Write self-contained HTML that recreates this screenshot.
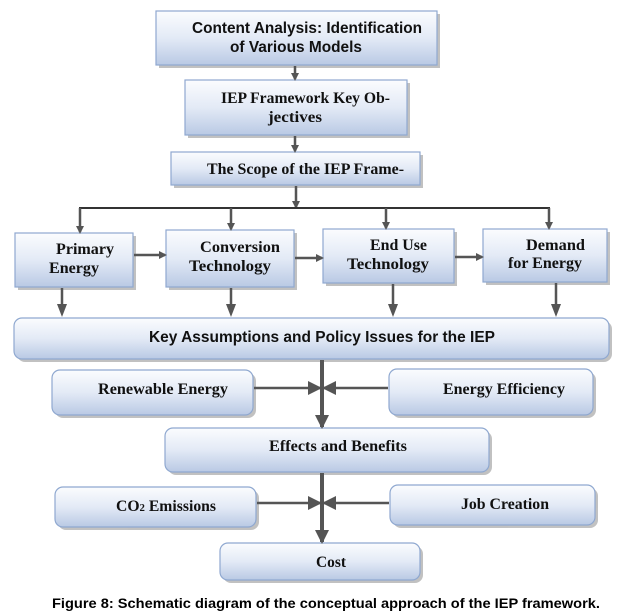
<!DOCTYPE html>
<html><head><meta charset="utf-8"><style>
html,body{margin:0;padding:0;background:#fff;}
svg{display:block;}
.s{font-family:"Liberation Sans",sans-serif;font-weight:bold;font-size:15.5px;fill:#111;}
.f{font-family:"Liberation Serif",serif;font-weight:bold;font-size:16px;fill:#111;}
</style></head><body>
<svg width="617" height="614" viewBox="0 0 617 614" xmlns="http://www.w3.org/2000/svg">
<defs>
<linearGradient id="g" x1="0" y1="0" x2="0" y2="1">
<stop offset="0" stop-color="#fbfcfe"/><stop offset="0.5" stop-color="#e3eaf6"/><stop offset="1" stop-color="#b9c9e4"/>
</linearGradient>
<marker id="a" markerWidth="8" markerHeight="8" refX="6" refY="4" orient="auto" markerUnits="userSpaceOnUse"><path d="M0,0 L8,4 L0,8 z" fill="#555"/></marker>
<marker id="b" markerWidth="14" markerHeight="14" refX="12" refY="7" orient="auto" markerUnits="userSpaceOnUse"><path d="M0,0 L14,7 L0,14 z" fill="#555"/></marker>
</defs>
<g fill="#999" opacity="0.6">
<rect x="159" y="14" width="281" height="54"/>
<rect x="188" y="83" width="222" height="55"/>
<rect x="174" y="155" width="249" height="33"/>
<rect x="18" y="236" width="118" height="54"/>
<rect x="169" y="233" width="128" height="57"/>
<rect x="326" y="232" width="131" height="54"/>
<rect x="486" y="232" width="124" height="53"/>
<rect x="17" y="321" width="595" height="41" rx="8"/>
<rect x="55" y="373" width="201" height="45" rx="8"/>
<rect x="392" y="372" width="204" height="46" rx="8"/>
<rect x="168" y="431" width="324" height="44" rx="8"/>
<rect x="58" y="490" width="201" height="40" rx="8"/>
<rect x="393" y="488" width="205" height="40" rx="8"/>
<rect x="223" y="546" width="200" height="37" rx="8"/>
</g>
<g fill="url(#g)" stroke="#8fa8d0" stroke-width="1.2">
<rect x="156" y="11" width="281" height="54"/>
<rect x="185" y="80" width="222" height="55"/>
<rect x="171" y="152" width="249" height="33"/>
<rect x="15" y="233" width="118" height="54"/>
<rect x="166" y="230" width="128" height="57"/>
<rect x="323" y="229" width="131" height="54"/>
<rect x="483" y="229" width="124" height="53"/>
<rect x="14" y="318" width="595" height="41" rx="8"/>
<rect x="52" y="370" width="201" height="45" rx="8"/>
<rect x="389" y="369" width="204" height="46" rx="8"/>
<rect x="165" y="428" width="324" height="44" rx="8"/>
<rect x="55" y="487" width="201" height="40" rx="8"/>
<rect x="390" y="485" width="205" height="40" rx="8"/>
<rect x="220" y="543" width="200" height="37" rx="8"/>
</g>
<g stroke="#555" stroke-width="2.5" fill="none">
<line x1="295" y1="66" x2="295" y2="79" marker-end="url(#a)"/>
<line x1="295" y1="136" x2="295" y2="151" marker-end="url(#a)"/>
<line x1="296" y1="186" x2="296" y2="207" marker-end="url(#a)"/>
<line x1="79" y1="208" x2="550" y2="208" stroke-width="2" stroke="#333"/>
<line x1="80" y1="208" x2="80" y2="232" marker-end="url(#a)"/>
<line x1="231" y1="208" x2="231" y2="229" marker-end="url(#a)"/>
<line x1="386" y1="208" x2="386" y2="228" marker-end="url(#a)"/>
<line x1="549" y1="208" x2="549" y2="228" marker-end="url(#a)"/>
<line x1="134" y1="255" x2="165" y2="255" marker-end="url(#a)"/>
<line x1="295" y1="258" x2="322" y2="258" marker-end="url(#a)"/>
<line x1="455" y1="257" x2="482" y2="257" marker-end="url(#a)"/>
<line x1="62" y1="288" x2="62" y2="305"/>
<line x1="231" y1="288" x2="231" y2="305"/>
<line x1="393" y1="284" x2="393" y2="305"/>
<line x1="556" y1="283" x2="556" y2="305"/>
<line x1="322" y1="360" x2="322" y2="427" stroke-width="4" marker-end="url(#b)"/>
<line x1="254" y1="388" x2="320" y2="388" marker-end="url(#b)"/>
<line x1="388" y1="388" x2="324" y2="388" marker-end="url(#b)"/>
<line x1="322" y1="473" x2="322" y2="542" stroke-width="4" marker-end="url(#b)"/>
<line x1="257" y1="503" x2="320" y2="503" marker-end="url(#b)"/>
<line x1="389" y1="503" x2="324" y2="503" marker-end="url(#b)"/>
</g>
<g fill="#555">
<path d="M57,304 L67,304 L62,317 z"/>
<path d="M226,304 L236,304 L231,317 z"/>
<path d="M388,304 L398,304 L393,317 z"/>
<path d="M551,304 L561,304 L556,317 z"/>
</g>
<g lengthAdjust="spacingAndGlyphs">
<text class="s" x="192" y="33" textLength="230" lengthAdjust="spacingAndGlyphs">Content Analysis: Identification</text>
<text class="s" x="230" y="52" textLength="132" lengthAdjust="spacingAndGlyphs">of Various Models</text>
<text class="f" x="221" y="103" textLength="169" lengthAdjust="spacingAndGlyphs">IEP Framework Key Ob-</text>
<text class="f" x="268" y="122" textLength="54" lengthAdjust="spacingAndGlyphs">jectives</text>
<text class="f" x="207" y="174" textLength="197" lengthAdjust="spacingAndGlyphs">The Scope of the IEP Frame-</text>
<text class="f" x="56" y="254" textLength="58" lengthAdjust="spacingAndGlyphs">Primary</text>
<text class="f" x="49" y="273" textLength="50" lengthAdjust="spacingAndGlyphs">Energy</text>
<text class="f" x="200" y="252" textLength="80" lengthAdjust="spacingAndGlyphs">Conversion</text>
<text class="f" x="189" y="271" textLength="82" lengthAdjust="spacingAndGlyphs">Technology</text>
<text class="f" x="370" y="250" textLength="57" lengthAdjust="spacingAndGlyphs">End Use</text>
<text class="f" x="347" y="269" textLength="82" lengthAdjust="spacingAndGlyphs">Technology</text>
<text class="f" x="526" y="250" textLength="59" lengthAdjust="spacingAndGlyphs">Demand</text>
<text class="f" x="508" y="268" textLength="74" lengthAdjust="spacingAndGlyphs">for Energy</text>
<text class="s" x="149" y="342" textLength="346" lengthAdjust="spacingAndGlyphs">Key Assumptions and Policy Issues for the IEP</text>
<text class="f" x="98" y="394" textLength="130" lengthAdjust="spacingAndGlyphs">Renewable Energy</text>
<text class="f" x="443" y="394" textLength="122" lengthAdjust="spacingAndGlyphs">Energy Efficiency</text>
<text class="f" x="269" y="451" textLength="138" lengthAdjust="spacingAndGlyphs">Effects and Benefits</text>
<text class="f" x="116" y="511" textLength="100" lengthAdjust="spacingAndGlyphs">CO<tspan font-size="11">2</tspan> Emissions</text>
<text class="f" x="461" y="509" textLength="88" lengthAdjust="spacingAndGlyphs">Job Creation</text>
<text class="f" x="316" y="567" textLength="30" lengthAdjust="spacingAndGlyphs">Cost</text>
<text class="s" x="52" y="608" textLength="548" lengthAdjust="spacingAndGlyphs" style="font-size:14px;fill:#000">Figure 8: Schematic diagram of the conceptual approach of the IEP framework.</text>
</g>
</svg>
</body></html>
